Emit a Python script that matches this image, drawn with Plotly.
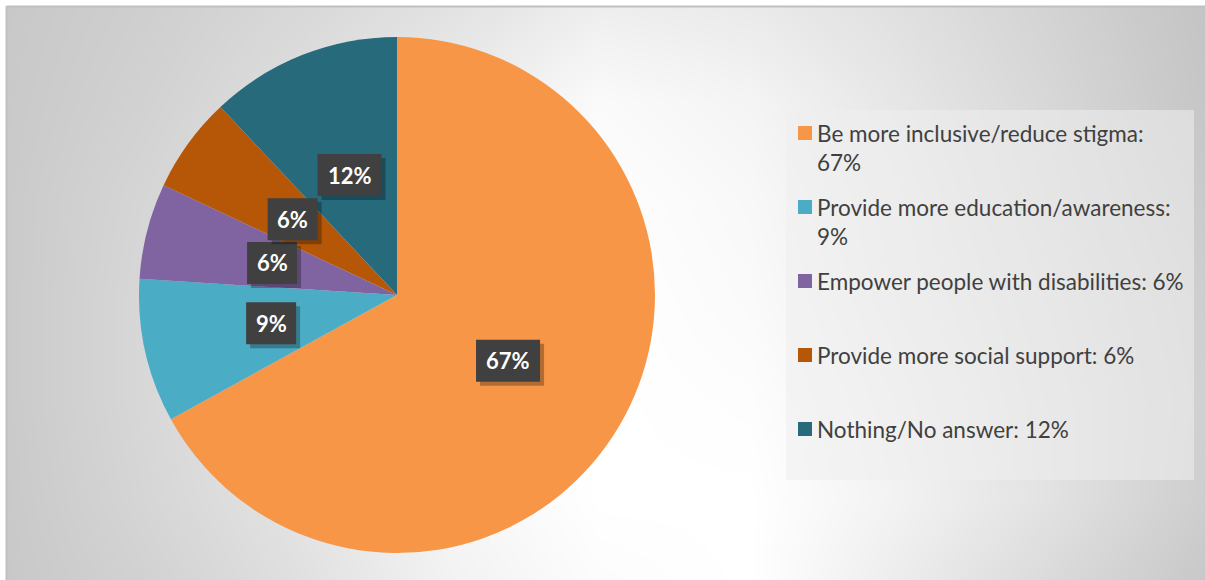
import math
import plotly.graph_objects as go

# ---------------- data ----------------
labels = ["Be more inclusive/reduce stigma",
          "Provide more education/awareness",
          "Empower people with disabilities",
          "Provide more social support",
          "Nothing/No answer"]
values = [67, 9, 6, 6, 12]
colors = ["#F79646", "#4BACC6", "#8064A2", "#B65708", "#276A7C"]
legend_wrap = [True, True, False, False, False]

# ---------------- background gradient samples (styling) ----------------
bg_x = [6, 150, 300, 450, 600, 750, 900, 1050, 1205]
bg_y = [6, 100, 200, 300, 400, 500, 580]
bg_z = [
    [200, 207, 216, 226, 238, 234, 224, 211, 196],
    [201, 210, 222, 235, 250, 244, 230, 215, 198],
    [202, 214, 228, 242, 254, 248, 234, 218, 202],
    [202, 216, 230, 245, 255, 250, 236, 222, 206],
    [202, 216, 232, 248, 255, 253, 240, 225, 208],
    [201, 214, 228, 246, 255, 255, 242, 226, 206],
    [200, 210, 224, 242, 252, 255, 236, 218, 200],
]

W, H = 1205, 580
CX, CY, R = 397, 295, 258          # pie centre / radius in pixels
FONT = "Lato"

fig = go.Figure()

fig.add_trace(go.Heatmap(
    x=bg_x, y=bg_y, z=bg_z, zmin=0, zmax=255, zsmooth="best",
    colorscale=[[0, "rgb(0,0,0)"], [1, "rgb(255,255,255)"]],
    showscale=False, hoverinfo="skip"))

fig.add_trace(go.Pie(
    labels=labels, values=values, sort=False, direction="clockwise",
    rotation=0, textinfo="none", showlegend=False, hoverinfo="label+percent",
    marker=dict(colors=colors, line=dict(width=0)),
    domain=dict(x=[(CX - R) / W, (CX + R) / W],
                y=[(H - CY - R) / H, (H - CY + R) / H])))

annotations = []
shapes = []

# data labels
total = sum(values)
cum = 0
for v in values:
    theta = 2 * math.pi * (cum + v / 2) / total
    cum += v
    lx = CX + 0.5 * R * math.sin(theta)
    ly = CY - 0.5 * R * math.cos(theta)
    txt = f"<b>{v}%</b>"
    w = 14 * len(f"{v}%") + 22
    h = 42
    # shadow
    shapes.append(dict(type="rect", xref="x", yref="y", layer="above",
                       x0=lx - w / 2 + 4, x1=lx + w / 2 + 4,
                       y0=ly - h / 2 + 4, y1=ly + h / 2 + 4,
                       fillcolor="rgba(0,0,0,0.28)", line=dict(width=0)))
    # box
    shapes.append(dict(type="rect", xref="x", yref="y", layer="above",
                       x0=lx - w / 2, x1=lx + w / 2,
                       y0=ly - h / 2, y1=ly + h / 2,
                       fillcolor="#404040", line=dict(width=0)))
    annotations.append(dict(x=lx, y=ly, xref="x", yref="y", text=txt,
                            showarrow=False, xanchor="center", yanchor="middle",
                            font=dict(family=FONT, size=22, color="white")))

# legend box
shapes.append(dict(type="rect", xref="x", yref="y", x0=786, x1=1194, y0=110, y1=480,
                   fillcolor="rgba(239,239,239,0.55)", line=dict(width=0), layer="above"))
for i, (lab, v, c, wrap) in enumerate(zip(labels, values, colors, legend_wrap)):
    yc = 133 + 74 * i
    shapes.append(dict(type="rect", xref="x", yref="y", x0=798, x1=812,
                       y0=yc - 7, y1=yc + 7, fillcolor=c, line=dict(width=0)))
    if wrap:
        txt = f"{lab}:<br>{v}%"
        ty = yc + 15
    else:
        txt = f"{lab}: {v}%"
        ty = yc
    annotations.append(dict(x=815, y=ty, xref="x", yref="y", text=txt,
                            showarrow=False, xanchor="left", yanchor="middle",
                            align="left",
                            font=dict(family=FONT, size=22.5, color="#404040")))

# outer border
shapes.append(dict(type="line", xref="paper", yref="paper",
                   x0=6.5 / W, x1=1, y0=1 - 6.5 / H, y1=1 - 6.5 / H,
                   line=dict(color="#c0c0c0", width=2)))
shapes.append(dict(type="line", xref="paper", yref="paper",
                   x0=6.5 / W, x1=6.5 / W, y0=0, y1=1 - 6.5 / H,
                   line=dict(color="#c0c0c0", width=2)))

fig.update_layout(
    width=W, height=H, margin=dict(l=0, r=0, t=0, b=0, pad=0),
    paper_bgcolor="white", plot_bgcolor="white",
    xaxis=dict(domain=[6 / W, 1], range=[6, W], visible=False, fixedrange=True),
    yaxis=dict(domain=[0, 1 - 6 / H], range=[H, 6], visible=False, fixedrange=True),
    annotations=annotations, shapes=shapes, showlegend=False,
)

fig.write_html("out.html")
